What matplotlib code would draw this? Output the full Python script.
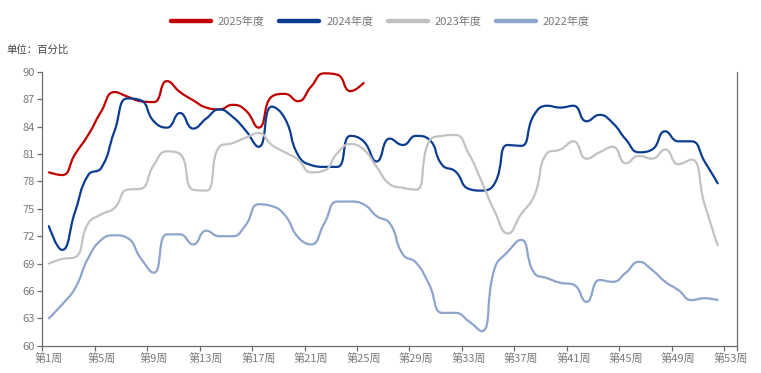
import numpy as np
import matplotlib.pyplot as plt
from matplotlib.path import Path
from matplotlib.patches import PathPatch
from matplotlib.lines import Line2D

plt.rcParams['font.family'] = ['Noto Sans CJK SC', 'DejaVu Sans']

# 周次 1..52（第53周为空）
weeks = list(range(1, 53))
week_ticks = list(range(1, 54, 4))
tick_labels = ["第%d周" % w for w in week_ticks]
y_ticks = list(range(60, 91, 3))

v2025 = [79.0, 78.7, 81.0, 83.1, 85.7, 87.8, 87.3, 86.8, 86.7, 89.0,
         87.8, 86.9, 86.1, 85.9, 86.4, 85.8, 83.9, 87.3, 87.6, 86.8,
         88.4, 89.85, 89.7, 87.9, 88.8]
v2024 = [73.1, 70.5, 74.7, 78.7, 79.5, 83.5, 87.1, 86.9, 84.6, 83.9,
         85.5, 83.8, 84.9, 85.9, 85.1, 83.6, 81.8, 86.2, 84.9, 80.9,
         79.8, 79.6, 79.6, 83.0, 82.4, 80.2, 82.7, 82.0, 83.0, 82.6,
         79.8, 79.1, 77.2, 77.0, 77.8, 82.0, 81.9, 85.3, 86.3, 86.1,
         86.3, 84.6, 85.3, 84.4, 82.6, 81.2, 81.5, 83.5, 82.4, 82.4,
         80.2, 77.8]
v2023 = [69.0, 69.5, 69.7, 73.4, 74.4, 75.1, 77.1, 77.2, 79.8, 81.3,
         81.0, 77.1, 77.0, 81.8, 82.2, 82.8, 83.3, 82.0, 81.2, 80.4,
         79.0, 79.2, 81.1, 82.1, 81.5, 79.6, 77.7, 77.3, 77.1, 82.4,
         83.0, 83.1, 81.1, 78.0, 74.7, 72.3, 74.4, 76.4, 81.1, 81.5,
         82.4, 80.5, 81.2, 81.8, 80.0, 80.8, 80.5, 81.5, 79.9, 80.4,
         75.5, 71.0]
v2022 = [63.0, 64.5, 66.3, 69.6, 71.6, 72.1, 71.8, 69.6, 68.0, 72.2,
         72.2, 71.1, 72.6, 72.0, 72.0, 73.2, 75.5, 75.3, 74.3, 71.9,
         71.1, 73.4, 75.8, 75.8, 75.5, 74.2, 73.4, 70.0, 69.1, 66.7,
         63.6, 63.6, 62.7, 61.6, 68.5, 70.3, 71.6, 68.0, 67.4, 66.9,
         66.7, 64.8, 67.2, 67.0, 68.0, 69.2, 68.3, 67.0, 66.1, 65.0,
         65.2, 65.0]

series = [
    ("2025年度", v2025, "#C00000"),
    ("2024年度", v2024, "#0A3D8F"),
    ("2023年度", v2023, "#C2C2C2"),
    ("2022年度", v2022, "#8DA5CD"),
]


def smooth_path(ax, xs, ys, smooth=0.5):
    """echarts 风格的平滑折线，返回数据坐标下的 Path"""
    pts = ax.transData.transform(np.column_stack([xs, ys]))
    n = len(pts)
    verts = [pts[0]]
    codes = [Path.MOVETO]
    cp0 = pts[0].copy()
    for i in range(1, n):
        x, y = pts[i]
        if i == n - 1:
            cp1 = pts[i].copy()
            nxt_cp0 = pts[i].copy()
        else:
            px, py = pts[i - 1]
            nx, ny = pts[i + 1]
            vx, vy = nx - px, ny - py
            l0 = np.hypot(x - px, y - py)
            l1 = np.hypot(nx - x, ny - y)
            r = l1 / (l0 + l1)
            ncx = x + vx * smooth * r
            ncy = y + vy * smooth * r
            ncx = max(min(ncx, max(nx, x)), min(nx, x))
            ncy = max(min(ncy, max(ny, y)), min(ny, y))
            vx, vy = ncx - x, ncy - y
            c1x = x - vx * l0 / l1
            c1y = y - vy * l0 / l1
            c1x = max(min(c1x, max(px, x)), min(px, x))
            c1y = max(min(c1y, max(py, y)), min(py, y))
            vx, vy = x - c1x, y - c1y
            ncx = x + vx * l1 / l0
            ncy = y + vy * l1 / l0
            cp1 = np.array([c1x, c1y])
            nxt_cp0 = np.array([ncx, ncy])
        verts += [cp0, cp1, pts[i]]
        codes += [Path.CURVE4] * 3
        cp0 = nxt_cp0
    verts = ax.transData.inverted().transform(np.array(verts))
    return Path(verts, codes)


fig = plt.figure(figsize=(7.61, 3.73), dpi=100)
ax = fig.add_axes([0.0556, 0.0732, 0.9133, 0.7338])
ax.set_xlim(0.5, 53.5)
ax.set_ylim(60, 90)

for name, vals, color in series:
    xs = weeks[:len(vals)]
    path = smooth_path(ax, xs, vals)
    ax.add_patch(PathPatch(path, facecolor="none", edgecolor=color,
                           lw=1.6, capstyle="round", joinstyle="round"))

axis_color = "#6E6E6E"
text_color = "#7A7A7A"
ax.spines["top"].set_visible(False)
for s in ["left", "right", "bottom"]:
    ax.spines[s].set_color(axis_color)
    ax.spines[s].set_linewidth(0.9)

ax.set_yticks(y_ticks)
ax.tick_params(axis="y", direction="out", length=3.5, width=0.9,
               colors=axis_color, labelcolor=text_color, labelsize=8, pad=2)
ax.set_xticks(week_ticks)
ax.set_xticklabels(tick_labels)
ax.tick_params(axis="x", which="major", length=0, labelcolor=text_color,
               labelsize=8, pad=5)
ax.set_xticks([w - 0.5 for w in week_ticks] + [53.5], minor=True)
ax.tick_params(axis="x", which="minor", direction="out", length=3.5,
               width=0.9, colors=axis_color)
ax.tick_params(axis="y", which="minor", left=False, right=False)

handles = [Line2D([0], [0], color=c, lw=3.2, solid_capstyle="round")
           for _, _, c in series]
fig.legend(handles, [s[0] for s in series], loc="center",
           bbox_to_anchor=(0.5, 0.941), ncol=4, frameon=False,
           fontsize=8, labelcolor=text_color, handlelength=3.6,
           handletextpad=0.6, columnspacing=1.3)

fig.text(0.009, 1 - 50 / 373, "单位：百分比", fontsize=7.5, color="#444444",
         va="center", ha="left")

fig.savefig("out.png", dpi=100)
